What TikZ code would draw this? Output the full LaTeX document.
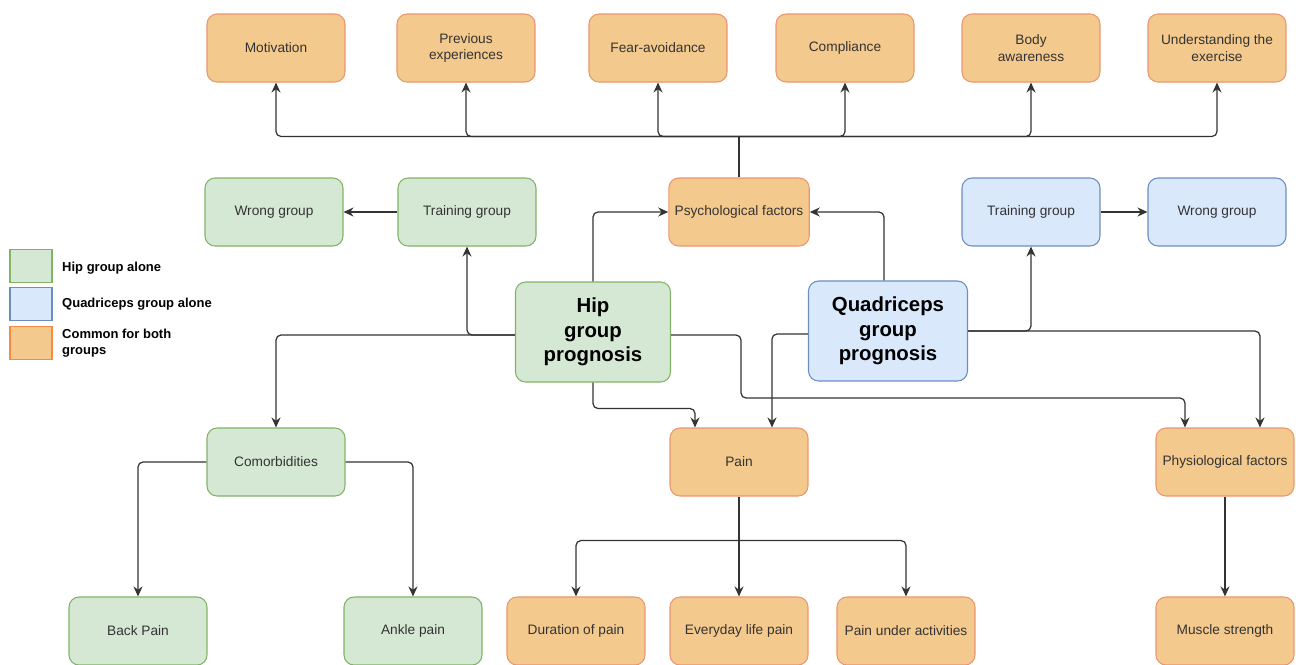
\documentclass[tikz,border=0pt]{standalone}
\usepackage{fontspec}
\setmainfont{Liberation Sans}
\usetikzlibrary{arrows.meta}

\definecolor{hipfill}{HTML}{D5E8D4}
\definecolor{hipline}{HTML}{82B366}
\definecolor{quadfill}{HTML}{DAE8FC}
\definecolor{quadline}{HTML}{6C8EBF}
\definecolor{comfill}{HTML}{F4C98D}
\definecolor{comline}{HTML}{EC9670}
\definecolor{txt}{HTML}{333333}

\begin{document}
\begin{tikzpicture}
  [x=0.02cm,y=-0.02cm,
   box/.style={rectangle,rounded corners=0.2cm,line width=0.6pt,minimum width=2.76cm,
     minimum height=1.36cm,align=center,text=txt,font=\fontsize{7.8}{9.4}\selectfont},
   hipbox/.style={box,fill=hipfill,draw=hipline},
   quadbox/.style={box,fill=quadfill,draw=quadline},
   combox/.style={box,fill=comfill,draw=comline},
   mainbox/.style={box,minimum height=2cm,text=black,
     font=\fontsize{11.6}{13.8}\selectfont\bfseries},
   swatch/.style={rectangle,line width=0.6pt,minimum width=0.84cm,minimum height=0.66cm},
   legtext/.style={anchor=west,align=left,text=black,font=\fontsize{7.4}{9}\selectfont\bfseries},
   arr/.style={-{Stealth[length=0.2cm,width=0.18cm]},line width=0.7pt,rounded corners=0.1cm,
     draw=black!80}]
  \fill[white] (0,0) rectangle (1296,664);
  \useasboundingbox (0,0) rectangle (1296,664);

  % top row
  \node[combox] (motiv) at (276,48) {Motivation};
  \node[combox] (prev) at (466,48) {Previous\\experiences};
  \node[combox] (fear) at (658,48) {Fear-avoidance};
  \node[combox] (compl) at (845,48) {Compliance};
  \node[combox] (body) at (1031,48) {Body\\awareness};
  \node[combox] (under) at (1217,48) {Understanding the\\exercise};

  % second row
  \node[hipbox] (hipwrong) at (274,212) {Wrong group};
  \node[hipbox] (hiptrain) at (467,212) {Training group};
  \node[combox] (psych) at (739,212) {Psychological factors};
  \node[quadbox] (quadtrain) at (1031,212) {Training group};
  \node[quadbox] (quadwrong) at (1217,212) {Wrong group};

  % prognosis
  \node[mainbox,fill=hipfill,draw=hipline,minimum width=3.1cm] (hip) at (593,332)
    {Hip\\group\\prognosis};
  \node[mainbox,fill=quadfill,draw=quadline,minimum width=3.18cm] (quad) at (888,331)
    {Quadriceps\\group\\prognosis};

  % third row
  \node[hipbox] (comorb) at (276,462) {Comorbidities};
  \node[combox] (pain) at (739,462) {Pain};
  \node[combox] (physio) at (1225,462) {Physiological factors};

  % bottom row
  \node[hipbox] (back) at (138,631) {Back Pain};
  \node[hipbox] (ankle) at (413,631) {Ankle pain};
  \node[combox] (durat) at (576,631) {Duration of pain};
  \node[combox] (every) at (739,631) {Everyday life pain};
  \node[combox] (activ) at (906,631) {Pain under activities};
  \node[combox] (muscle) at (1225,631) {Muscle strength};

  % legend
  \node[swatch,fill=hipfill,draw=hipline] (leghip) at (31,266) {};
  \node[swatch,fill=quadfill,draw=quadline] (legquad) at (31,304) {};
  \node[swatch,fill=comfill,draw=comline!60!orange] (legcom) at (31,343) {};
  \node[legtext] (leghiptxt) at (56,268) {Hip group alone};
  \node[legtext] (legquadtxt) at (56,304) {Quadriceps group alone};
  \node[legtext] (legcomtxt) at (56,343) {Common for both\\groups};

  % connections
  \draw[line width=0.7pt,draw=black!80] (psych.north) -- ++(0,-41) coordinate (pj);
  \foreach \to in {motiv,prev,fear,compl,body,under}
    \draw[arr] (pj) -| (\to.south);
  \draw[line width=0.7pt,draw=black!80] (pain.south) -- ++(0,44) coordinate (pb);
  \foreach \to in {durat,every,activ}
    \draw[arr] (pb) -| (\to.north);

  \draw[arr] (hiptrain) -- (hipwrong);
  \draw[arr] (quadtrain) -- (quadwrong);
  \draw[arr] (hip.north) |- (psych.west);
  \draw[arr] ([xshift=-0.08cm]quad.north) |- (psych.east);
  \draw[arr] ([yshift=-0.06cm]hip.west) -| (hiptrain.south);
  \draw[arr] ([yshift=-0.06cm]hip.west) -| (comorb.north);
  \draw[arr] ([yshift=-0.06cm]hip.east) -| ++(70,63) -| ([xshift=-0.8cm]physio.north);
  \draw[arr] (hip.south) -- ++(0,26) -| ([xshift=-0.88cm]pain.north);
  \draw[arr] ([yshift=-0.06cm]quad.west) -| ([xshift=0.66cm]pain.north);
  \draw[arr] (quad.east) -| (quadtrain.south);
  \draw[arr] (quad.east) -| ([xshift=0.7cm]physio.north);
  \draw[arr] (comorb.west) -| (back.north);
  \draw[arr] (comorb.east) -| (ankle.north);
  \draw[arr] (physio) -- (muscle);
\end{tikzpicture}
\end{document}
